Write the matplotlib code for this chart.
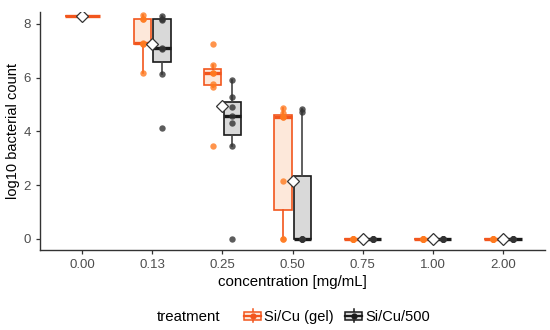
import numpy as np
import matplotlib
matplotlib.use('Agg')
import matplotlib.pyplot as plt
from matplotlib.patches import Rectangle, Patch
from matplotlib.lines import Line2D
from matplotlib.legend_handler import HandlerBase

plt.rcParams['font.family'] = ['Liberation Sans', 'DejaVu Sans']

# DATA
conc_labels = ['0.00', '0.13', '0.25', '0.50', '0.75', '1.00', '2.00']
treatments = ['Si/Cu (gel)', 'Si/Cu/500']
gel = [
    [8.3, 8.3, 8.3, 8.3, 8.3, 8.3, 8.3],
    [6.17, 7.25, 7.25, 7.28, 8.18, 8.2, 8.33],
    [3.46, 5.66, 5.76, 6.16, 6.16, 6.49, 7.25],
    [0, 0, 2.17, 4.52, 4.55, 4.67, 4.86],
    [0, 0, 0, 0, 0, 0, 0],
    [0, 0, 0, 0, 0, 0, 0],
    [0, 0, 0, 0, 0, 0, 0],
]
s500 = [
    [],
    [4.12, 6.12, 7.06, 7.11, 8.15, 8.2, 8.3],
    [0, 3.46, 4.30, 4.58, 4.92, 5.27, 5.91],
    [0, 0, 0, 0, 0, 4.71, 4.83],
    [0, 0, 0, 0, 0, 0, 0],
    [0, 0, 0, 0, 0, 0, 0],
    [0, 0, 0, 0, 0, 0, 0],
]

# STYLE
ORANGE_EDGE = '#F2561D'
ORANGE_FILL = '#FDE8DA'
ORANGE_PT = '#FF7A1F'
BLACK_EDGE = '#1A1A1A'
BLACK_FILL = '#D9D9D9'
BLACK_PT = '#333333'
DODGE = 0.14
WIDTH = 0.25


def draw_boxes(ax, data, pos, width, edge, fill, pt, wcol):
    ax.boxplot(data, positions=[pos], widths=width, patch_artist=True,
               showfliers=False, showcaps=False, whis=1.5, manage_ticks=False,
               boxprops=dict(facecolor=fill, edgecolor=edge, linewidth=1.2),
               whiskerprops=dict(color=wcol, linewidth=1.2),
               medianprops=dict(color=edge, linewidth=2.4, solid_capstyle='butt'),
               zorder=2)
    ax.plot([pos] * len(data), data, 'o', color=pt, alpha=0.8, ms=4.6,
            mec='none', zorder=3)


fig = plt.figure(figsize=(5.5, 3.3), dpi=100)
ax = fig.add_axes([0.073, 0.242, 0.918, 0.722])

for i in range(len(conc_labels)):
    g, b = gel[i], s500[i]
    if len(b) == 0:
        draw_boxes(ax, g, i, 2 * WIDTH, ORANGE_EDGE, ORANGE_FILL, ORANGE_PT, ORANGE_EDGE)
    else:
        draw_boxes(ax, g, i - DODGE, WIDTH, ORANGE_EDGE, ORANGE_FILL, ORANGE_PT, ORANGE_EDGE)
        draw_boxes(ax, b, i + DODGE, WIDTH, BLACK_EDGE, BLACK_FILL, BLACK_PT, '#444444')
    m = np.mean(g + b)
    ax.plot(i, m, 'D', mfc='white', mec='#333333', mew=0.9, ms=6.5, zorder=4)

ax.set_xlim(-0.6, 6.6)
ax.set_ylim(-0.42, 8.45)
ax.set_xticks(range(len(conc_labels)))
ax.set_xticklabels(conc_labels)
ax.set_yticks([0, 2, 4, 6, 8])
for s in ['top', 'right']:
    ax.spines[s].set_visible(False)
for s in ['left', 'bottom']:
    ax.spines[s].set_color('#333333')
    ax.spines[s].set_linewidth(1.0)
ax.tick_params(colors='#333333', labelcolor='#4D4D4D', labelsize=9.5, length=3, width=0.9)
ax.set_xlabel('concentration [mg/mL]', fontsize=10.8, labelpad=3)
ax.set_ylabel('log10 bacterial count', fontsize=10.5, labelpad=3)


class BoxHandler(HandlerBase):
    def create_artists(self, legend, orig, xd, yd, width, height, fontsize, trans):
        ec, fc = orig.get_edgecolor(), orig.get_facecolor()
        cx, cy = width / 2 - xd, height / 2 - yd
        bw, bh = 12, height * 0.75
        rect = Rectangle((cx - bw / 2, cy - bh / 2), bw, bh, facecolor=fc,
                         edgecolor=ec, lw=1.1, transform=trans)
        vl = Line2D([cx, cx], [cy - height * 0.65, cy + height * 0.65], color=ec, lw=1.1, transform=trans)
        hl = Line2D([cx - bw / 2, cx + bw / 2], [cy, cy], color=ec, lw=1.6, transform=trans)
        dot = Line2D([cx], [cy], marker='o', ms=3.5, color=ec, transform=trans)
        return [vl, rect, hl, dot]


handles = [Patch(facecolor=ORANGE_FILL, edgecolor=ORANGE_EDGE),
           Patch(facecolor=BLACK_FILL, edgecolor=BLACK_EDGE)]
fig.text(0.285, 0.04, 'treatment', fontsize=10.8, va='center')
fig.legend(handles, treatments, handler_map={Patch: BoxHandler()}, ncol=2,
           loc='center left', bbox_to_anchor=(0.445, 0.04), frameon=False,
           fontsize=10.5, handlelength=1.1, handletextpad=0.25, columnspacing=0.8,
           borderpad=0, borderaxespad=0)

fig.savefig('out.png', dpi=100)
